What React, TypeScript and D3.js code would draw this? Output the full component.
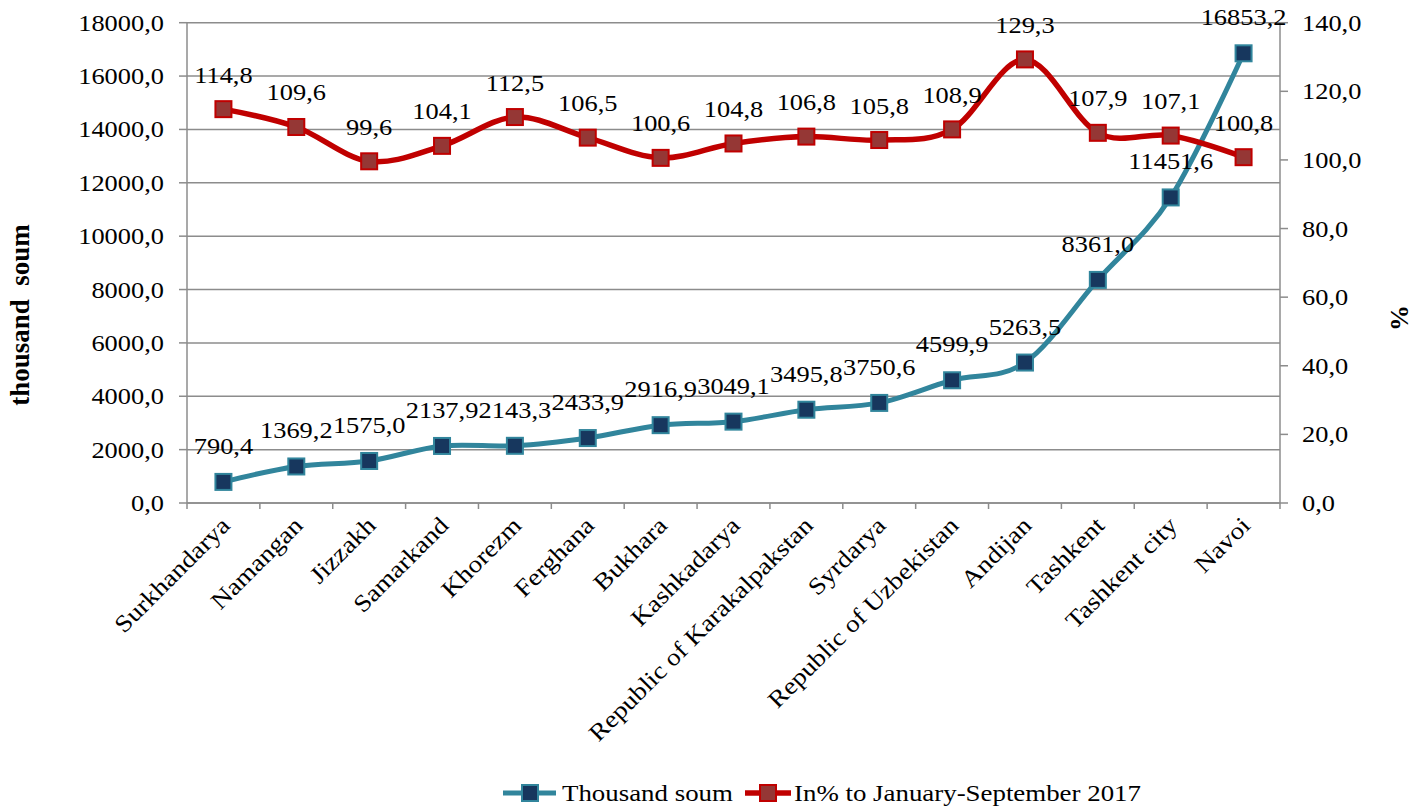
import React from "react";
import * as d3 from "d3";

const categories = [
  "Surkhandarya", "Namangan", "Jizzakh", "Samarkand", "Khorezm", "Ferghana", "Bukhara",
  "Kashkadarya", "Republic of Karakalpakstan", "Syrdarya", "Republic of Uzbekistan",
  "Andijan", "Tashkent", "Tashkent city", "Navoi",
];
const thousandSoum = [790.4, 1369.2, 1575.0, 2137.9, 2143.3, 2433.9, 2916.9, 3049.1, 3495.8, 3750.6, 4599.9, 5263.5, 8361.0, 11451.6, 16853.2];
const percentToPrev = [114.8, 109.6, 99.6, 104.1, 112.5, 106.5, 100.6, 104.8, 106.8, 105.8, 108.9, 129.3, 107.9, 107.1, 100.8];
const leftTicks = [0, 2000, 4000, 6000, 8000, 10000, 12000, 14000, 16000, 18000];
const rightTicks = [0, 20, 40, 60, 80, 100, 120, 140];
const seriesNames = ["Thousand soum", "In% to January-September 2017"];
const leftTitle = "thousand\u00A0\u00A0soum";
const rightTitle = "%";

const W = 1424, H = 807;
const L = 187, R = 1280, T = 22.7, B = 503;
const FONT = "'Liberation Serif', 'Times New Roman', serif";
const BLUE_LINE = "#31859C";
const BLUE_FILL = "#17375E";
const RED_LINE = "#C00000";
const RED_FILL = "#953735";
const GRID = "#8C8C8C";
const SX = 1.1;

const fmt = (v: number) => d3.format(".1f")(v).replace(".", ",");

export default function App() {
  const x = d3.scaleBand<string>().domain(categories).range([L, R]);
  const bw = x.bandwidth();
  const cx = (c: string) => (x(c) as number) + bw / 2;
  const yL = d3.scaleLinear().domain([0, 18000]).range([B, T]);
  const yR = d3.scaleLinear().domain([0, 140]).range([B, T]);

  const bluePts = thousandSoum.map((v, i) => [cx(categories[i]), yL(v)] as [number, number]);
  const redPts = percentToPrev.map((v, i) => [cx(categories[i]), yR(v)] as [number, number]);
  const lineGen = d3.line<[number, number]>().curve(d3.curveCardinal.tension(0));

  const ms = 16;
  const marker = (p: [number, number], fill: string, stroke: string, key: string) => (
    <rect key={key} x={p[0] - ms / 2} y={p[1] - ms / 2} width={ms} height={ms} fill={fill} stroke={stroke} strokeWidth={2} />
  );

  const txt = (s: string, xx: number, yy: number, anchor: string, key: string, size = 24, sx = SX) => (
    <text key={key} transform={`translate(${xx},${yy}) scale(${sx},1)`} textAnchor={anchor} fontSize={size} fontFamily={FONT} fill="#000">{s}</text>
  );

  const legendY = 793;
  return (
    <svg width={W} height={H} style={{ position: "absolute", left: 0, top: 0, background: "#fff" }}>
      {leftTicks.map((t) => (
        <line key={"g" + t} x1={L} x2={R} y1={yL(t)} y2={yL(t)} stroke={GRID} strokeWidth={1.5} />
      ))}
      <line x1={L} x2={L} y1={T} y2={B} stroke={GRID} strokeWidth={1.5} />
      <line x1={R} x2={R} y1={T} y2={B} stroke={GRID} strokeWidth={1.5} />
      <line x1={L} x2={R} y1={B} y2={B} stroke={GRID} strokeWidth={1.5} />
      {leftTicks.map((t) => (
        <line key={"lt" + t} x1={L - 8} x2={L} y1={yL(t)} y2={yL(t)} stroke={GRID} strokeWidth={1.5} />
      ))}
      {rightTicks.map((t) => (
        <line key={"rt" + t} x1={R} x2={R + 8} y1={yR(t)} y2={yR(t)} stroke={GRID} strokeWidth={1.5} />
      ))}
      {categories.map((c) => (
        <line key={"xt" + c} x1={x(c) as number} x2={x(c) as number} y1={B} y2={B + 6} stroke={GRID} strokeWidth={1.5} />
      ))}
      <line x1={R} x2={R} y1={B} y2={B + 6} stroke={GRID} strokeWidth={1.5} />
      {leftTicks.map((t) => txt(fmt(t), 164, yL(t) + 8, "end", "ll" + t))}
      {rightTicks.map((t) => txt(fmt(t), 1302, yR(t) + 8, "start", "rl" + t))}
      {categories.map((c) => (
        <text key={"xl" + c} transform={`translate(${cx(c) + 2},${B + 18}) rotate(-45) scale(1.14,1)`} textAnchor="end" dy="0.35em" fontSize={24} fontFamily={FONT}>{c}</text>
      ))}
      <text transform={`translate(29,315) rotate(-90)`} textAnchor="middle" fontSize={27} fontWeight="bold" fontFamily={FONT}>{leftTitle}</text>
      <text transform={`translate(1408,318) rotate(-90)`} textAnchor="middle" fontSize={26} fontWeight="bold" fontFamily={FONT}>{rightTitle}</text>
      <path d={lineGen(bluePts) || ""} fill="none" stroke={BLUE_LINE} strokeWidth={5} />
      {bluePts.map((p, i) => marker(p, BLUE_FILL, BLUE_LINE, "bm" + i))}
      <path d={lineGen(redPts) || ""} fill="none" stroke={RED_LINE} strokeWidth={5.5} />
      {redPts.map((p, i) => marker(p, RED_FILL, RED_LINE, "rm" + i))}
      {bluePts.map((p, i) => txt(fmt(thousandSoum[i]), p[0], p[1] - 28, "middle", "bl" + i))}
      {redPts.map((p, i) => txt(fmt(percentToPrev[i]), p[0], p[1] - 26.5, "middle", "rl2" + i))}
      <line x1={503} x2={556} y1={legendY} y2={legendY} stroke={BLUE_LINE} strokeWidth={5} />
      {marker([530, legendY], BLUE_FILL, BLUE_LINE, "lgb")}
      {txt(seriesNames[0], 562, legendY + 8, "start", "lgt0", 24, 1.12)}
      <line x1={745} x2={791} y1={legendY} y2={legendY} stroke={RED_LINE} strokeWidth={5.5} />
      {marker([768, legendY], RED_FILL, RED_LINE, "lgr")}
      {txt(seriesNames[1], 794, legendY + 8, "start", "lgt1", 24, 1.12)}
    </svg>
  );
}
